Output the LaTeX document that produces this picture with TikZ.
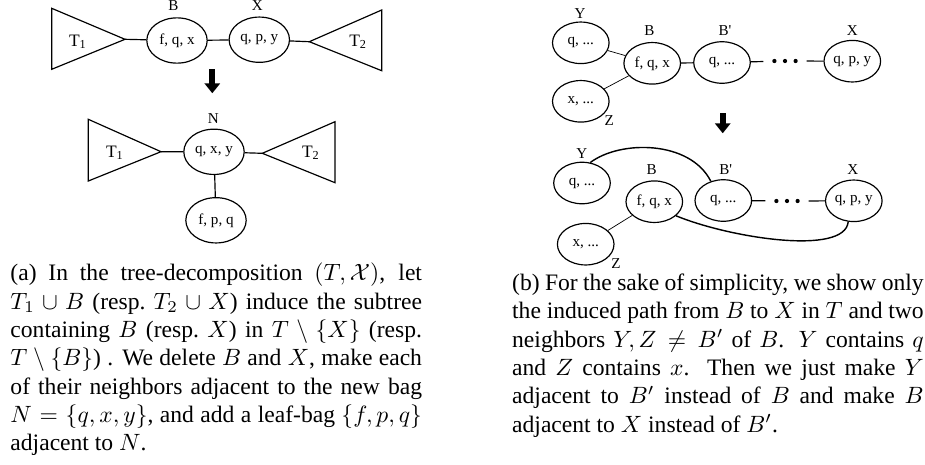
\documentclass[tikz,border=0pt]{standalone}
\usepackage[no-math]{fontspec}
\setmainfont{Liberation Serif}
\usetikzlibrary{shapes.geometric, arrows.meta}

\begin{document}
\begin{tikzpicture}[x=0.424pt, y=-0.424pt, font=\fontsize{6.4}{7.5}\selectfont,
  bag/.style={draw, ellipse, line width=0.5pt, inner sep=0pt, minimum width=25.6pt, minimum height=19.2pt},
  sbag/.style={bag, minimum width=24pt, minimum height=17.6pt},
  tri/.style={draw, line width=0.5pt},
  tname/.style={font=\fontsize{7.4}{8}\selectfont},
  dotsbox/.style={inner sep=0pt, minimum width=18pt, minimum height=2pt},
  bigarrow/.style={line width=2.5pt, -{Triangle[length=4.2pt, width=6.4pt]}},
  captext/.style={anchor=north west, inner sep=0pt, text width=174.5pt, align=justify, font=\fontsize{10}{12}\selectfont}]
  \useasboundingbox (0,0) rectangle (925,464);

  % (a) before
  \coordinate (t1a) at (125,39.3);
  \coordinate (t2a) at (309.3,41.7);
  \draw[tri] (51.7,8.3) -- (51.7,69.3) -- (t1a) -- cycle;
  \draw[tri] (381.7,10) -- (381.7,70.7) -- (t2a) -- cycle;
  \node[tname] (t1) at (78,41.7) {T\textsubscript{1}};
  \node[tname] (t2) at (358.3,41.7) {T\textsubscript{2}};
  \node[bag] (B1) at (177,40.5) {f, q, x};
  \node[bag] (X1) at (259.3,39.7) {q, p, y};
  \node (lB1) at (173.3,6) {B};
  \node (lX1) at (257.3,6) {X};
  \draw[line width=0.5pt] (t1a) -- (B1);
  \draw[line width=0.5pt] (B1) -- (X1);
  \draw[line width=0.5pt] (X1) -- (t2a);

  \coordinate (arA) at (212.3,69.3);
  \coordinate (arB) at (212.3,93.3);
  \draw[bigarrow] (arA) -- (arB);

  % (a) after
  \coordinate (t3a) at (161,151.7);
  \coordinate (t4a) at (262.3,153.3);
  \draw[tri] (88.3,119.3) -- (88.3,181) -- (t3a) -- cycle;
  \draw[tri] (335,121.7) -- (335,182.7) -- (t4a) -- cycle;
  \node[tname] (t3) at (115,153) {T\textsubscript{1}};
  \node[tname] (t4) at (311,153) {T\textsubscript{2}};
  \node[bag] (N) at (214,151.8) {q, x, y};
  \node[bag] (L) at (216,220.3) {f, p, q};
  \node (lN) at (213.3,118.3) {N};
  \draw[line width=0.5pt] (t3a) -- (N);
  \draw[line width=0.5pt] (N) -- (t4a);
  \draw[line width=0.5pt] (N) -- (L);

  % (b) before
  \node[sbag] (Y1) at (580.8,42.8) {q, ...};
  \node[sbag] (Z1) at (580.8,101.3) {x, ...};
  \node[sbag] (B2) at (652.2,63.3) {f, q, x};
  \node[sbag] (Bp1) at (722,62.5) {q, ...};
  \node[sbag] (X2) at (852.3,61.2) {q, p, y};
  \node[dotsbox] (dots1) at (785,61) {};
  \foreach \s in {-4.5pt,0pt,4.5pt}
    \fill ([xshift=\s]dots1.center) circle (0.9pt);
  \node (lY1) at (580,14) {Y};
  \node (lZ1) at (609.3,120.7) {Z};
  \node (lB2) at (649.3,30.7) {B};
  \node (lBp1) at (725,30.7) {B\textquotesingle};
  \node (lX2) at (852.3,30.7) {X};
  \draw[line width=0.3pt] (Y1) -- (B2);
  \draw[line width=0.3pt] (Z1) -- (B2);
  \draw[line width=0.5pt] (B2) -- (Bp1);
  \draw[line width=0.5pt] (Bp1) -- (dots1);
  \draw[line width=0.5pt] (dots1) -- (X2);

  \coordinate (arC) at (722.7,113.3);
  \coordinate (arD) at (722.7,133.3);
  \draw[bigarrow] (arC) -- (arD);

  % (b) after
  \node[sbag] (Y2) at (582,183) {q, ...};
  \node[sbag] (Z2) at (585.7,244.2) {x, ...};
  \node[sbag] (B3) at (654.3,201.7) {f, q, x};
  \node[sbag] (Bp2) at (723.3,200.5) {q, ...};
  \node[sbag] (X3) at (853.8,200.8) {q, p, y};
  \node[dotsbox] (dots2) at (787,201) {};
  \foreach \s in {-4.5pt,0pt,4.5pt}
    \fill ([xshift=\s]dots2.center) circle (0.9pt);
  \node (lY2) at (581.7,153.3) {Y};
  \node (lZ2) at (616,264) {Z};
  \node (lB3) at (651.7,170) {B};
  \node (lBp2) at (725.7,170) {B\textquotesingle};
  \node (lX3) at (852.7,170) {X};
  \draw[line width=0.3pt] (Z2) -- (B3);
  \draw[line width=0.5pt] (Bp2) -- (dots2);
  \draw[line width=0.5pt] (dots2) -- (X3);
  \draw[line width=0.6pt] (Y2.68) .. controls (620,140) and (690,140) .. (Bp2.123);
  \draw[line width=0.6pt] (B3.-33) .. controls (730,238) and (845,256) .. (X3.-105);

  % captions
  \node[captext] (capa) at (10,262.8) {(a) In the tree-decomposition $(T,\mathcal{X})$, let\linebreak
    $T_1\cup B$ (resp.\ $T_2\cup X$) induce the subtree\linebreak
    containing $B$ (resp.\ $X$) in $T\setminus\{X\}$ (resp.\linebreak
    $T\setminus\{B\}$) . We delete $B$ and $X$, make each\linebreak
    of their neighbors adjacent to the new bag\linebreak
    $N=\{q,x,y\}$, and add a leaf-bag $\{f,p,q\}$\linebreak
    adjacent to $N$.};
  \node[captext] (capb) at (511.7,273.5) {(b) For the sake of simplicity, we show only\linebreak
    the induced path from $B$ to $X$ in $T$ and two\linebreak
    neighbors $Y,Z\neq B'$ of $B$. $Y$ contains $q$\linebreak
    and $Z$ contains $x$. Then we just make $Y$\linebreak
    adjacent to $B'$ instead of $B$ and make $B$\linebreak
    adjacent to $X$ instead of $B'$.};
\end{tikzpicture}
\end{document}
